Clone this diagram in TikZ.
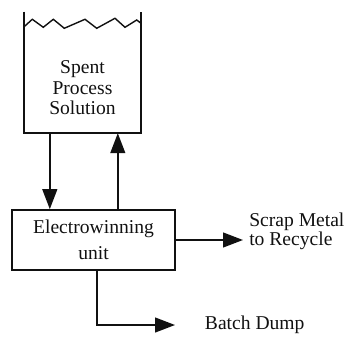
\documentclass[tikz,border=0pt]{standalone}
\usepackage{fontspec}
\setmainfont{Liberation Serif}
\usepackage{tikz}
\usetikzlibrary{positioning,arrows.meta,calc}
\definecolor{ink}{HTML}{111111}
\tikzset{
  blk/.style  = {draw=ink, line width=1.7pt, align=center, text=ink, font=\fontsize{19.5}{20.5}\selectfont},
  txt/.style  = {align=center, text=ink, font=\fontsize{19.5}{20.5}\selectfont},
  tnk/.style  = {inner sep=0pt},
  wall/.style = {draw=ink, line width=1.7pt},
  ar/.style   = {-{Triangle[length=7mm,width=5.2mm]}, line width=1.7pt, draw=ink},
}
\begin{document}
\begin{tikzpicture}
  \useasboundingbox (0,0) rectangle (12.075,-12.005);

  % holding tank, open at the top
  \node[tnk, minimum width=4.085cm, minimum height=4.245cm] (tank) at (2.8925,-2.5325) {};
  \draw[wall] (tank.north west) -- (tank.south west) -- (tank.south east) -- (tank.north east);
  \draw[wall, line width=1.4pt] (0.85,-0.93) -- (1.13,-0.675) -- (1.515,-0.955) -- (1.865,-0.675)
       -- (2.25,-0.99) -- (2.975,-0.675) -- (3.385,-0.99) -- (4.025,-0.64) -- (4.375,-0.955)
       -- (4.785,-0.7) -- (4.935,-0.815);
  \node[txt] (sol) at (2.8875,-3.08) {Spent\\ Process\\ Solution};

  \node[blk, minimum width=5.705cm, minimum height=2.1cm] (ew) at (3.2725,-8.4)
       {Electrowinning\\[5pt] unit};
  \draw[ar] ([xshift=0.9cm]tank.south west) -- ([xshift=0.9cm]tank.south west |- ew.north);
  \draw[ar] ([xshift=3.28cm]tank.south west |- ew.north) -- ([xshift=3.28cm]tank.south west);

  \coordinate (scrap) at (8.505,-8.4);
  \draw[ar] (ew.east) -- (scrap);
  \node[txt, align=left, anchor=west, font=\fontsize{19.5}{19}\selectfont] (sm) at (8.6,-8.09)
       {Scrap Metal\\ to Recycle};

  \coordinate (dump) at (6.125,-11.375);
  \draw[ar] ([xshift=3.01cm]ew.south west) |- (dump);
  \node[txt, anchor=west] (bd) at (7.05,-11.375) {Batch Dump};
\end{tikzpicture}
\end{document}
